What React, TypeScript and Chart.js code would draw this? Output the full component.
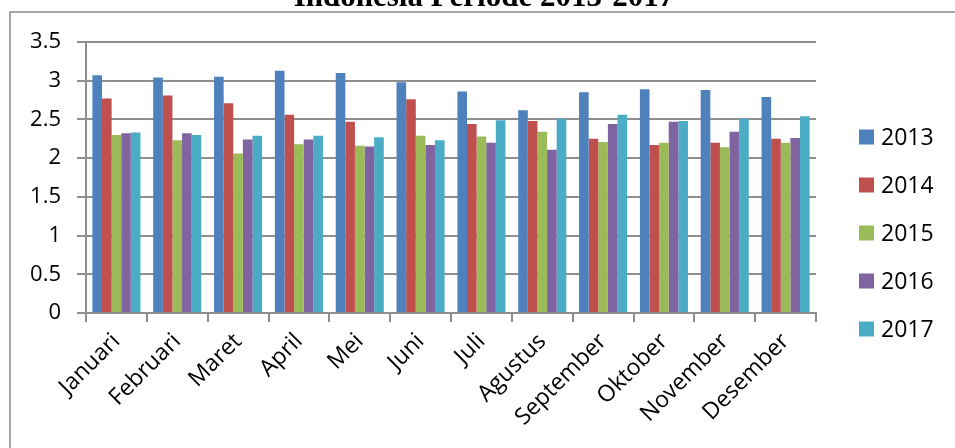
import React, { useEffect, useRef } from "react";
import { Chart, registerables } from "chart.js";

Chart.register(...registerables);

const months = ["Januari", "Februari", "Maret", "April", "Mei", "Juni", "Juli", "Agustus", "September", "Oktober", "November", "Desember"];
const years = ["2013", "2014", "2015", "2016", "2017"];
const v2013 = [3.07, 3.04, 3.05, 3.13, 3.10, 2.98, 2.86, 2.62, 2.85, 2.89, 2.88, 2.79];
const v2014 = [2.77, 2.81, 2.71, 2.56, 2.47, 2.76, 2.44, 2.48, 2.25, 2.17, 2.20, 2.25];
const v2015 = [2.30, 2.23, 2.06, 2.18, 2.16, 2.29, 2.28, 2.34, 2.21, 2.20, 2.14, 2.20];
const v2016 = [2.32, 2.32, 2.24, 2.24, 2.15, 2.17, 2.20, 2.11, 2.44, 2.47, 2.34, 2.26];
const v2017 = [2.33, 2.30, 2.29, 2.29, 2.27, 2.23, 2.49, 2.51, 2.56, 2.48, 2.51, 2.54];
const yTicks = [0, 0.5, 1, 1.5, 2, 2.5, 3, 3.5];
const colors = ["#4F81BD", "#C0504D", "#9BBB59", "#8064A2", "#4BACC6"];
const titleText = "Indonesia Periode 2013-2017";

const FONT = "'Open Sans', sans-serif";
const GRID = "#8e8e8e";

export default function App() {
  const ref = useRef<HTMLCanvasElement | null>(null);
  useEffect(() => {
    if (!ref.current) return;
    const series = [v2013, v2014, v2015, v2016, v2017];
    const decor = {
      id: "decor",
      beforeDraw(chart: any) {
        const ctx = chart.ctx;
        ctx.save();
        ctx.fillStyle = "#ffffff";
        ctx.fillRect(0, 0, chart.width, chart.height);
        ctx.strokeStyle = "#8a8a8a";
        ctx.lineWidth = 1.5;
        ctx.strokeRect(10, 12, 2000, 2000);
        ctx.fillStyle = "#000";
        ctx.font = "bold 31px 'Liberation Serif', 'Times New Roman', serif";
        ctx.textAlign = "center";
        ctx.textBaseline = "alphabetic";
        ctx.fillText(titleText, 484, 6);
        ctx.restore();
      },
      afterDraw(chart: any) {
        const ctx = chart.ctx;
        ctx.save();
        ctx.font = "23px " + FONT;
        ctx.textBaseline = "middle";
        ctx.textAlign = "left";
        chart.data.datasets.forEach((ds: any, i: number) => {
          const cy = 137 + i * 48;
          ctx.fillStyle = ds.backgroundColor;
          ctx.fillRect(859, cy - 7.5, 15, 15);
          ctx.fillStyle = "#000";
          ctx.fillText(ds.label, 881, cy + 1);
        });
        ctx.restore();
      },
    };
    const chart = new Chart(ref.current, {
      type: "bar",
      data: {
        labels: months,
        datasets: years.map((y, i) => ({
          label: y,
          data: series[i],
          backgroundColor: colors[i],
          borderWidth: 0,
          categoryPercentage: 0.79,
          barPercentage: 1,
        })),
      },
      options: {
        animation: false,
        responsive: false,
        maintainAspectRatio: false,
        layout: { padding: { top: 42, left: 0, right: 139, bottom: 0 } },
        plugins: { legend: { display: false }, title: { display: false }, tooltip: { enabled: false } },
        scales: {
          x: {
            grid: { offset: true, drawOnChartArea: false, drawTicks: true, tickLength: 9, color: GRID, lineWidth: 2 },
            border: { display: true, color: GRID, width: 2 },
            ticks: {
              autoSkip: false,
              maxRotation: 45,
              minRotation: 45,
              padding: 6,
              color: "#000",
              font: { family: FONT, size: 23 },
            },
            afterFit(scale: any) {
              scale.height = 448 - 313;
            },
          },
          y: {
            min: 0,
            max: 3.5,
            afterBuildTicks(scale: any) {
              scale.ticks = yTicks.map((v) => ({ value: v }));
            },
            grid: { color: GRID, lineWidth: 2, tickLength: 9, drawTicks: true },
            border: { display: true, color: GRID, width: 2 },
            ticks: {
              padding: 16,
              color: "#000",
              font: { family: FONT, size: 22 },
              callback: (v: any) => String(v),
            },
            afterFit(scale: any) {
              scale.width = 86;
            },
          },
        },
      },
      plugins: [decor],
    });
    return () => chart.destroy();
  }, []);
  return (
    <div style={{ position: "fixed", left: 0, top: 0, width: 955, height: 448, background: "#fff" }}>
      <canvas ref={ref} width={955} height={448} style={{ width: 955, height: 448, display: "block" }} />
    </div>
  );
}
